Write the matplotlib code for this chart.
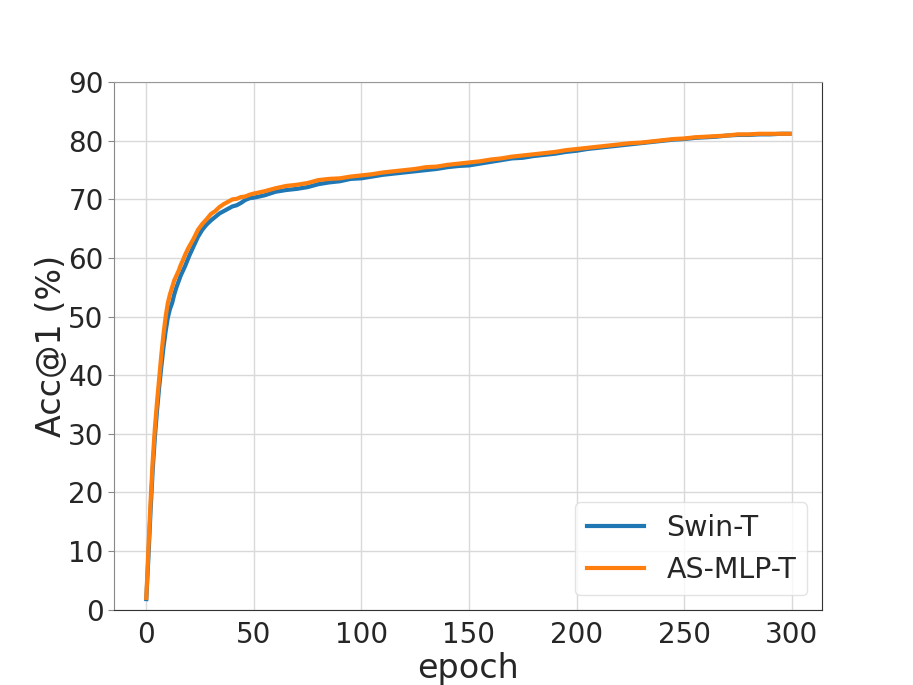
import matplotlib
matplotlib.use("Agg")
import matplotlib.pyplot as plt

epochs = [0, 1, 2, 3, 4, 5, 6, 7, 8, 9, 10, 11, 12, 13, 14, 15, 16, 17, 18, 19, 20,
          22, 24, 26, 28, 30, 32, 34, 36, 38, 40, 42, 44, 46, 48, 50,
          55, 60, 65, 70, 75, 80, 85, 90, 95, 100, 105, 110, 115, 120, 125,
          130, 135, 140, 145, 150, 155, 160, 165, 170, 175, 180, 185, 190,
          195, 200, 205, 210, 215, 220, 225, 230, 235, 240, 245, 250, 255,
          260, 265, 270, 275, 280, 285, 290, 295, 299]

swin_t = [1.8, 9.0, 17.0, 24.0, 29.5, 34.0, 38.0, 41.5, 44.8, 47.5, 49.8, 51.3,
          52.3, 53.8, 55.0, 56.0, 57.0, 57.8, 58.6, 59.5, 60.4,
          62.0, 63.6, 64.8, 65.7, 66.4, 67.0, 67.6, 68.0, 68.4, 68.8, 69.0, 69.4,
          69.9, 70.2, 70.3,
          70.7, 71.3, 71.6, 71.8, 72.1, 72.6, 72.9, 73.1, 73.5, 73.6, 73.9, 74.2,
          74.4, 74.6, 74.8, 75.0, 75.2, 75.5, 75.7, 75.8, 76.1, 76.4, 76.7, 77.0,
          77.1, 77.4, 77.6, 77.8, 78.1, 78.3, 78.6, 78.8, 79.0, 79.2, 79.4, 79.6,
          79.8, 80.0, 80.2, 80.3, 80.5, 80.6, 80.7, 80.9, 81.0, 81.0, 81.1, 81.1,
          81.2, 81.2]

as_mlp_t = [2.0, 10.5, 18.5, 25.5, 31.0, 35.5, 39.5, 43.5, 47.0, 50.0, 52.3, 53.8,
            55.0, 56.2, 57.0, 57.8, 58.8, 59.6, 60.5, 61.3, 62.0,
            63.3, 64.8, 65.8, 66.6, 67.5, 68.0, 68.7, 69.2, 69.6, 70.0, 70.1, 70.4,
            70.5, 70.8, 71.0,
            71.4, 71.9, 72.3, 72.5, 72.8, 73.3, 73.5, 73.6, 73.9, 74.1, 74.3, 74.6,
            74.8, 75.0, 75.2, 75.5, 75.6, 75.9, 76.1, 76.3, 76.5, 76.8, 77.0, 77.3,
            77.5, 77.7, 77.9, 78.1, 78.4, 78.6, 78.8, 79.0, 79.2, 79.4, 79.6, 79.7,
            79.9, 80.1, 80.3, 80.4, 80.6, 80.7, 80.8, 80.9, 81.1, 81.1, 81.2, 81.2,
            81.2, 81.2]

text_col = '#262626'

fig = plt.figure(figsize=(9.13, 6.85), dpi=100)
ax = fig.add_subplot(111)

ax.plot(epochs, swin_t, color='#1f77b4', lw=3, label='Swin-T')
ax.plot(epochs, as_mlp_t, color='#ff7f0e', lw=3, label='AS-MLP-T')

ax.set_ylim(0, 90)
ax.set_yticks(range(0, 91, 10))
ax.set_xticks(range(0, 301, 50))
ax.grid(True, color='#d9d9d9', lw=1)
ax.set_axisbelow(True)

# spines look gray on top/left, dark on bottom/right
ax.spines['top'].set_color('#999999')
ax.spines['left'].set_color('#888888')
ax.spines['bottom'].set_color('#333333')
ax.spines['right'].set_color('#333333')

ax.tick_params(axis='both', labelsize=20, colors=text_col)
ax.tick_params(axis='y', length=4, color='#888888')
ax.tick_params(axis='x', length=0, pad=8)

ax.set_xlabel('epoch', fontsize=24, color=text_col, labelpad=2)
ax.set_ylabel('Acc@1 (%)', fontsize=24, color=text_col, labelpad=0)

leg = ax.legend(loc='lower right', fontsize=20.5, frameon=True)
leg.get_frame().set_edgecolor('#dddddd')
for t in leg.get_texts():
    t.set_color(text_col)

fig.savefig('out.png', dpi=100)
